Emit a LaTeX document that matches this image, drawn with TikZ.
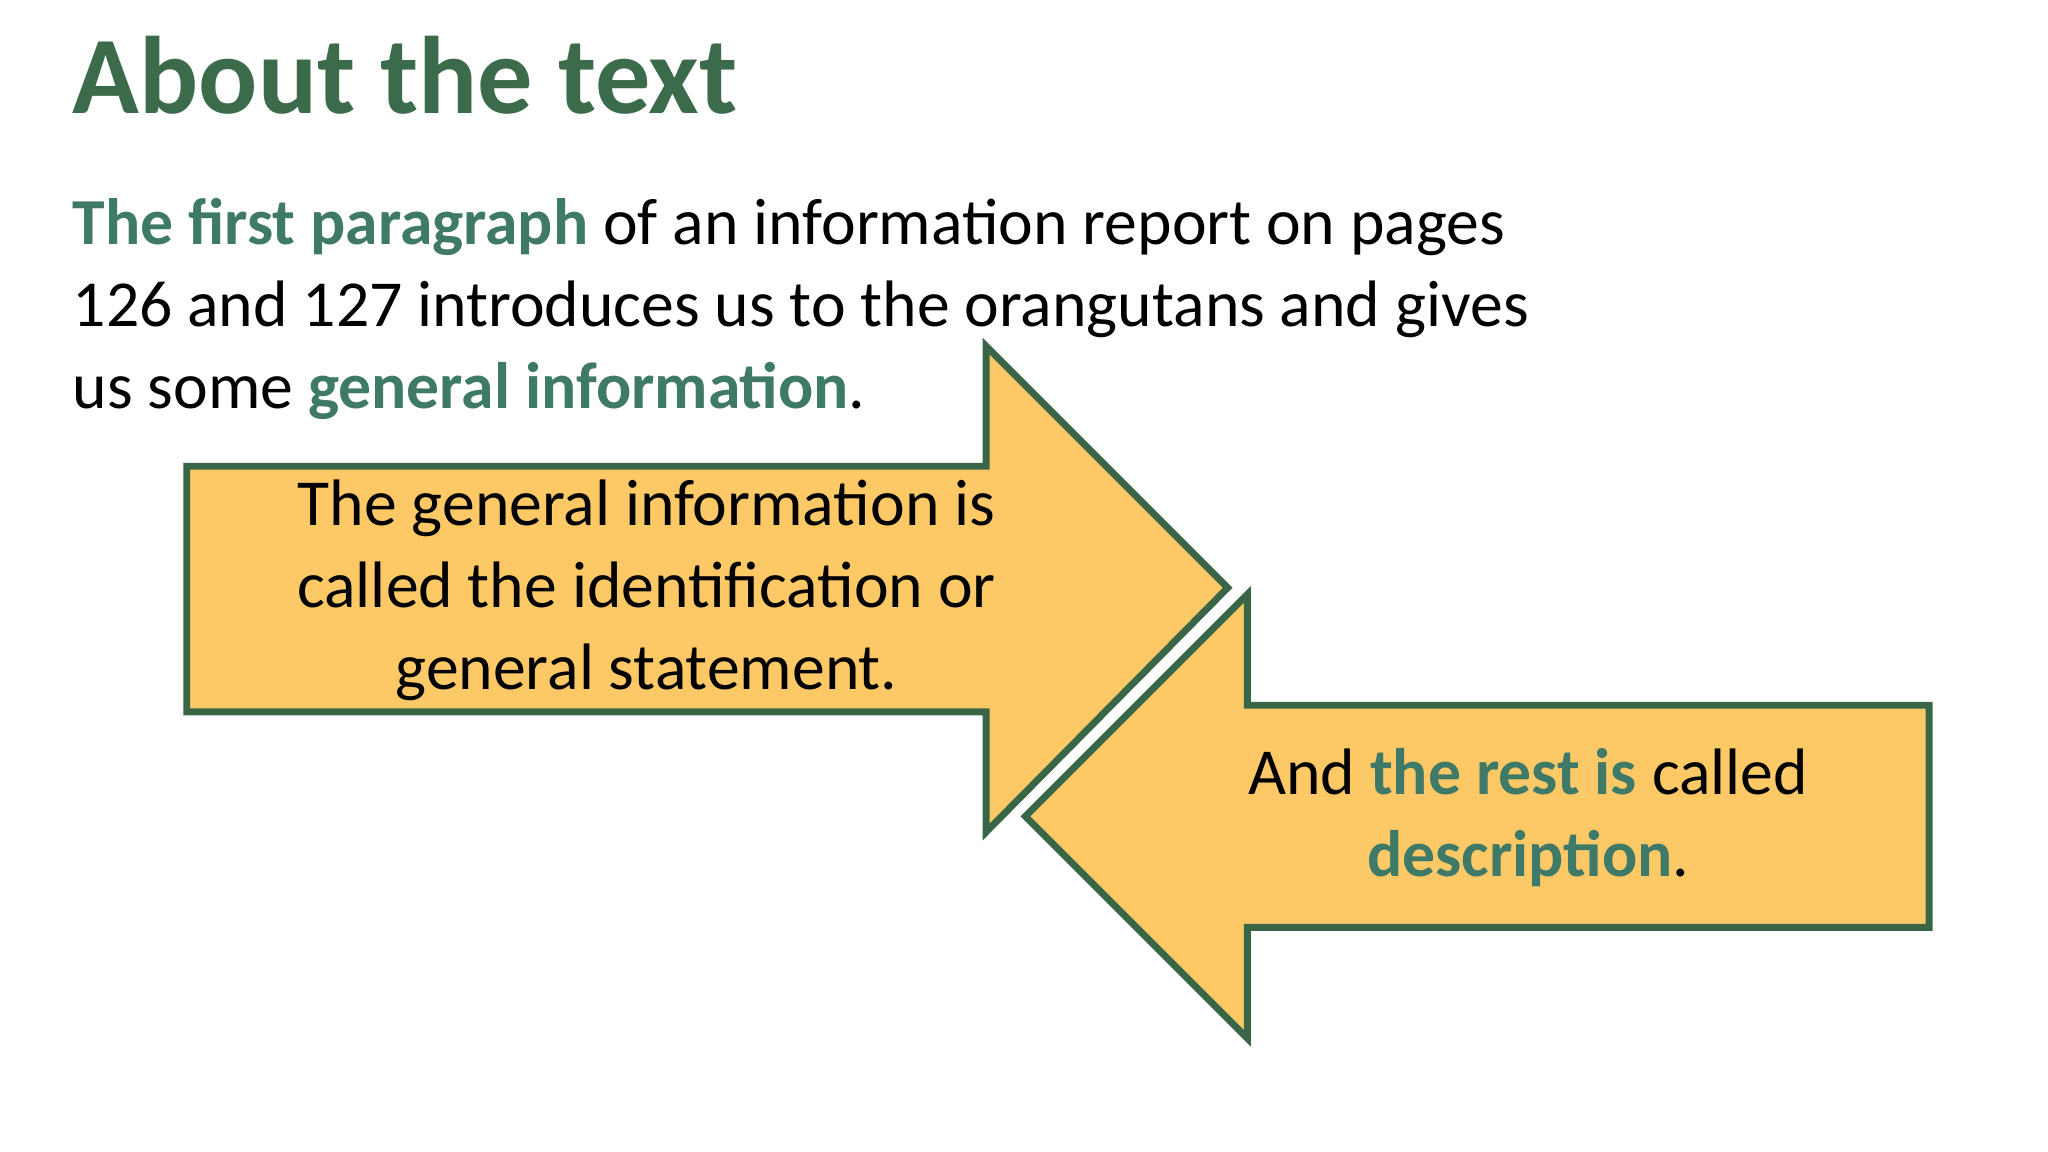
\documentclass[tikz,border=0pt]{standalone}
\usepackage{fontspec}
\setmainfont{Carlito}
\definecolor{ttl}{HTML}{3B6B4B}
\definecolor{hl}{HTML}{3F7A68}
\definecolor{arrfill}{HTML}{FDC866}
\definecolor{arrline}{HTML}{3A6648}
\begin{document}
\begin{tikzpicture}[x=0.01cm,y=-0.01cm,
  body/.style={anchor=base west,inner sep=0,font=\fontsize{14.3}{18}\selectfont},
  arr/.style={fill=arrfill,draw=arrline,line width=1.5pt,line join=miter},
  atext/.style={align=center,inner sep=0,font=\fontsize{14.3}{17.8}\selectfont}]
\useasboundingbox (0,0) rectangle (1568,882);
\node[anchor=base west,inner sep=0,text=ttl,font=\fontsize{24}{28}\selectfont\bfseries] (title) at (55,87) {About the text};
\node[body] (l1) at (55,187) {\textbf{\color{hl}The first paragraph} of an information report on pages};
\node[body] (l2) at (55,250) {126 and 127 introduces us to the orangutans and gives};
\node[body] (l3) at (55,313) {us some \textbf{\color{hl}general information}.};
\draw[arr] (143,357) -- (755,357) -- (755,265) -- (940,450) -- (755,637) -- (755,545) -- (143,545) -- cycle;
\draw[arr] (955,455) -- (955,540) -- (1477,540) -- (1477,710) -- (955,710) -- (955,795) -- (785,625) -- cycle;
\node[atext] (a1) at (495,452) {The general information is\\called the identification or\\general statement.};
\node[atext] (a2) at (1170,626) {And \textbf{\color{hl}the rest is} called\\\textbf{\color{hl}description}.};
\end{tikzpicture}
\end{document}
